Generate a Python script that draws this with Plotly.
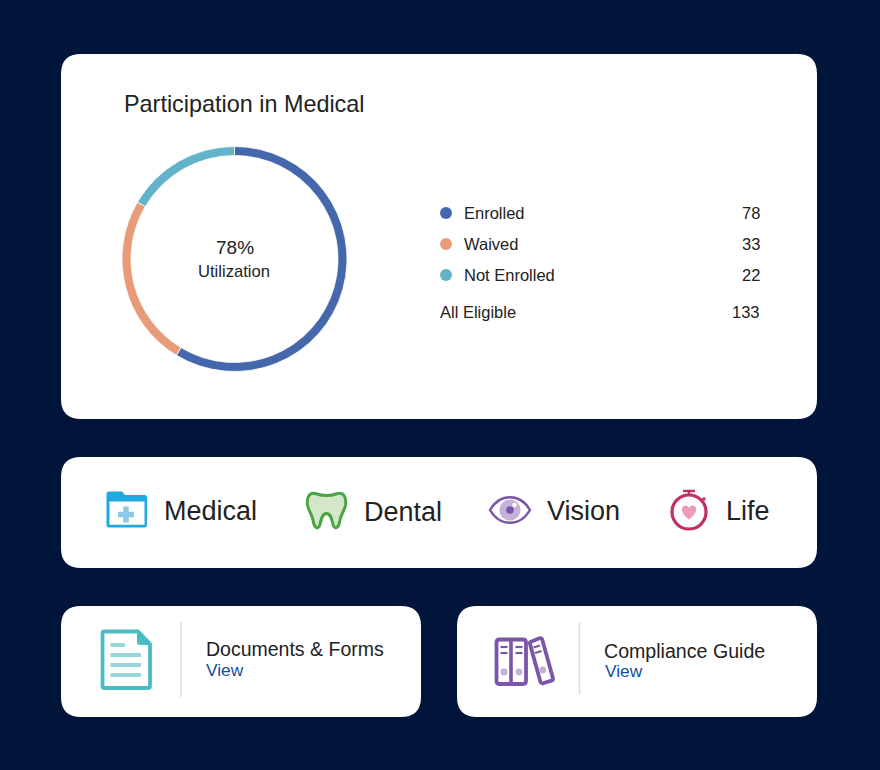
import plotly.graph_objects as go

# dashboard mockup, page is drawn in pixel coordinates through hidden axes
W = 880
H = 770

categories = ["Enrolled", "Waived", "Not Enrolled"]
counts = [78, 33, 22]
slice_colors = ["#4568ad", "#e89b78", "#62b3c9"]
total_label = "All Eligible"
total_count = 133
utilization = "78%"
benefits = ["Medical", "Dental", "Vision", "Life"]
resources = ["Documents & Forms", "Compliance Guide"]

NAVY = "#01153a"
INK = "#222222"
LINK = "#0f4f9a"
PURPLE = "#7b55a7"
LILAC = "#c5b0da"
TEAL = "#4bbcc4"
FONT = "Liberation Sans"

shapes = []
notes = []


def rounded(x0, y0, x1, y1, r):
    return (f"M{x0+r},{y0} L{x1-r},{y0} Q{x1},{y0} {x1},{y0+r} L{x1},{y1-r} Q{x1},{y1} {x1-r},{y1} "
            f"L{x0+r},{y1} Q{x0},{y1} {x0},{y1-r} L{x0},{y0+r} Q{x0},{y0} {x0+r},{y0} Z")


def card(x0, y0, x1, y1, r=20):
    shapes.append(dict(type="path", path=rounded(x0, y0, x1, y1, r), fillcolor="white", line_width=0, layer="below"))


def path(d, fill="rgba(0,0,0,0)", color=None, width=0):
    shapes.append(dict(type="path", path=d, fillcolor=fill,
                       line=dict(color=color or "rgba(0,0,0,0)", width=width)))


def circle(cx, cy, r, fill="rgba(0,0,0,0)", color=None, width=0):
    shapes.append(dict(type="circle", x0=cx-r, x1=cx+r, y0=cy-r, y1=cy+r, fillcolor=fill,
                       line=dict(color=color or "rgba(0,0,0,0)", width=width)))


def seg(x0, y0, x1, y1, color, width):
    shapes.append(dict(type="line", x0=x0, y0=y0, x1=x1, y1=y1, line=dict(color=color, width=width)))


def text(x, y, s, size=16.5, color=INK, anchor="left"):
    notes.append(dict(x=x, y=y, text=s, showarrow=False, xanchor=anchor, yanchor="middle",
                      borderpad=0, borderwidth=0, font=dict(family=FONT, size=size, color=color)))


card(61, 54, 817, 419)
card(61, 457, 817, 568)
card(61, 606, 421, 717)
card(457, 606, 817, 717)

# top card texts
text(124, 104, "Participation in Medical", size=23.4)
text(234.5, 247.5, utilization, size=19, anchor="center")
text(234, 271.5, "Utilization", size=16.6, anchor="center")

row_y = [213 + 31 * i for i in range(len(categories))]
for name, n, y in zip(categories, counts, row_y):
    text(464, y, name)
    text(760, y, str(n), anchor="right")
text(440, 312, total_label)
text(760, 312, str(total_count), anchor="right")

# benefit row
for name, x, y in zip(benefits, [164, 364, 547, 726], [511, 511.5, 511, 511]):
    text(x, y, name, size=27)

# folder
path("M106.5,494 Q106.5,491.5 109,491.5 L122,491.5 L125,495 L144.5,495 Q147,495 147,497.5 "
     "L147,525 Q147,527.5 144.5,527.5 L109,527.5 Q106.5,527.5 106.5,525 Z", fill="#1fa9e0")
path("M109.5,501.5 L144.5,501.5 L144.5,524.8 L109.5,524.8 Z", fill="white")
seg(118, 514.5, 134, 514.5, "#8cc8ea", 5.5)
seg(126, 506.5, 126, 522.5, "#8cc8ea", 5.5)

# tooth
path("M317,494 C309,491 306.5,498 307.5,505 C308.5,511 312,514 313,520 C314,527 317,530 319.5,526 "
     "C321,522 321,514 326.5,513.5 C332,514 332,522 333.5,526 C336,530 339,527 340,520 "
     "C341,514 344.5,511 345.5,505 C346.5,498 344,491 336,494 C331,496 322,496 317,494 Z",
     fill="#d5e7c9", color="#4aa544", width=3)

# eye
path("M490,510 C500,493 520,493 530,510 C520,527 500,527 490,510 Z", fill="white", color=PURPLE, width=2.4)
circle(510, 510, 10.5, fill=LILAC)
circle(510, 510, 3.8, fill=PURPLE)
circle(514.5, 505, 2.2, fill="white")

# stopwatch
circle(689, 512, 17, fill="white", color="#c1305f", width=3.2)
seg(689, 491.5, 689, 495, "#c1305f", 2.5)
seg(683, 491, 695, 491, "#c1305f", 2.5)
circle(704, 499, 1.8, fill="#c1305f")
path("M689,519.5 C680,513 680.5,506 685,505.5 C687,505.3 688.5,506.5 689,508 "
     "C689.5,506.5 691,505.3 693,505.5 C697.5,506 698,513 689,519.5 Z", fill="#ee9bb8")

# document icon
path("M104,631.5 L138,631.5 L150,644 L150,686 Q150,688 148,688 L104,688 Q102.5,688 102.5,686 "
     "L102.5,633.5 Q102.5,631.5 104,631.5 Z", fill="white", color=TEAL, width=3.8)
path("M138,631.5 L150,644 L140,644 Q138,644 138,642 Z", fill=TEAL, color=TEAL, width=2)
seg(110.5, 645, 125, 645, "#96d6da", 4)
for y in [655, 665, 675]:
    seg(110.5, y, 141, y, "#96d6da", 4)
seg(181, 622, 181, 697, "#dcdcdc", 1.5)
text(206, 648.5, resources[0], size=19.5)
text(206, 669.5, "View", size=17.3, color=LINK)

# binders icon
path(rounded(496.5, 639.5, 526, 684, 3), fill="white", color=PURPLE, width=3.8)
seg(511, 639.5, 511, 684, PURPLE, 3.6)
path("M531.5,641.5 L539.5,638.3 Q541.5,637.5 542.2,639.5 L552.8,677.5 Q553.5,680 551.5,680.6 "
     "L543,683.2 Q541,683.8 540.4,681.8 L530,644 Q529.5,642.3 531.5,641.5 Z",
     fill="white", color=PURPLE, width=3.8)
for x in [504, 519]:
    seg(x-3.5, 647, x+3.5, 647, PURPLE, 2.2)
    seg(x-3.5, 653, x+3.5, 653, PURPLE, 2.2)
    circle(x, 672, 3.4, fill=LILAC)
seg(533.5, 647.5, 540, 645.5, PURPLE, 2.2)
seg(535, 653, 541.5, 651, PURPLE, 2.2)
circle(542.7, 670, 3.4, fill=LILAC)
seg(579.5, 622, 579.5, 695, "#dcdcdc", 1.5)
text(604, 650.5, resources[1], size=19.6)
text(605, 671, "View", size=17.3, color=LINK)

fig = go.Figure()
fig.add_trace(go.Scatter(x=[446] * len(categories), y=row_y, mode="markers",
                         marker=dict(size=12, color=slice_colors), hoverinfo="skip", showlegend=False))
fig.add_trace(go.Pie(labels=categories, values=counts, sort=False, direction="clockwise", rotation=0,
                     hole=0.92, textinfo="none", hoverinfo="label+value", showlegend=False,
                     marker=dict(colors=slice_colors, line=dict(color="white", width=0.8)),
                     domain=dict(x=[122 / W, 347 / W], y=[1 - 371.5 / H, 1 - 146.5 / H])))
fig.update_layout(
    width=W, height=H, margin=dict(l=0, r=0, t=0, b=0),
    paper_bgcolor=NAVY, plot_bgcolor=NAVY,
    xaxis=dict(range=[0, W], visible=False, fixedrange=True),
    yaxis=dict(range=[H, 0], visible=False, fixedrange=True),
    shapes=shapes, annotations=notes,
)
fig.write_html("out.html", config=dict(displayModeBar=False),
               post_script="document.body.style.margin='0';document.body.style.background='%s';" % NAVY)
